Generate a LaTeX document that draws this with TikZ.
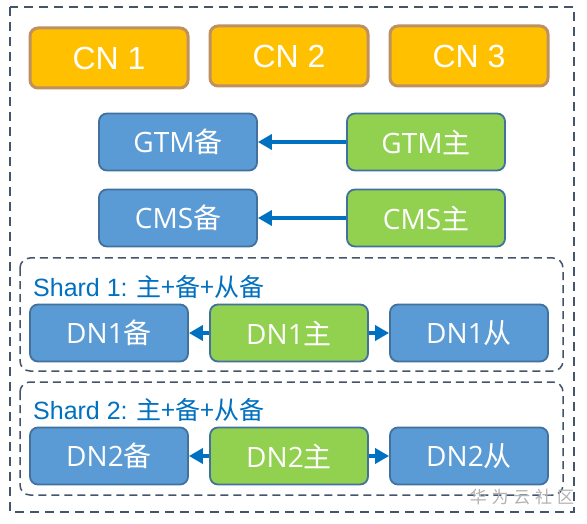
\documentclass[tikz,border=0pt]{standalone}
\usepackage{fontspec}
\setmainfont{Liberation Sans}
\newfontfamily\cjk{Noto Sans CJK SC}
\newfontfamily\lat{Open Sans}
\newfontfamily\cjkwm[LetterSpace=28]{Noto Sans CJK SC}
\usetikzlibrary{arrows.meta}
\definecolor{cnfill}{HTML}{FFC000}
\definecolor{cnborder}{HTML}{BF9060}
\definecolor{bluefill}{HTML}{5B9BD5}
\definecolor{blueborder}{HTML}{41719C}
\definecolor{greenfill}{HTML}{92D050}
\definecolor{dashcol}{HTML}{44546A}
\definecolor{arrowcol}{HTML}{0070C0}
\definecolor{titlecol}{HTML}{0070C0}
\newcommand{\mixlabel}[2]{{\lat #1}{\cjk #2}}
\tikzset{
  cnbox/.style={draw=cnborder, line width=3pt, fill=cnfill, rounded corners=8pt,
    minimum width=158pt, minimum height=60pt, text=white,
    font=\fontsize{32}{38}\selectfont},
  bluebox/.style={draw=blueborder, line width=1.8pt, fill=bluefill, rounded corners=8pt,
    minimum width=158pt, minimum height=57pt, text=white,
    font=\fontsize{28}{34}\selectfont},
  greenbox/.style={bluebox, fill=greenfill},
  groupbox/.style={draw=dashcol, line width=1.5pt, dash pattern=on 8pt off 5pt, rounded corners=10pt},
  outerbox/.style={draw=dashcol, line width=2pt, dash pattern=on 9pt off 6pt},
  flow/.style={draw=arrowcol, line width=3.5pt, -{Triangle[length=14pt,width=15pt]}},
  shardtitle/.style={text=titlecol, anchor=west, inner sep=0pt, font=\fontsize{25}{30}\selectfont},
}
\begin{document}
\begin{tikzpicture}[x=1pt,y=-1pt]
\useasboundingbox (0,0) rectangle (587,524);
\fill[white] (0,0) rectangle (587,524);
% outer
\draw[outerbox] (10,7) rectangle (574,512);
% CN
\node[cnbox] (cn1) at (109,58) {CN 1};
\node[cnbox] (cn2) at (289,56) {CN 2};
\node[cnbox] (cn3) at (469,56) {CN 3};
% GTM / CMS
\node[bluebox] (gtmb) at (178,142) {\mixlabel{GTM}{备}};
\node[greenbox] (gtmz) at (426,142) {\mixlabel{GTM}{主}};
\node[bluebox] (cmsb) at (178,218) {\mixlabel{CMS}{备}};
\node[greenbox] (cmsz) at (426,218) {\mixlabel{CMS}{主}};
\draw[flow] (gtmz.west) -- (gtmb.east);
\draw[flow] (cmsz.west) -- (cmsb.east);
% Shard 1
\draw[groupbox] (20,258) rectangle (563,371);
\node[shardtitle] (s1t) at (33,287) {Shard 1: {\cjk 主+备+从备}};
\node[bluebox] (dn1b) at (109,333) {\mixlabel{DN1}{备}};
\node[greenbox] (dn1z) at (289,333) {\mixlabel{DN1}{主}};
\node[bluebox] (dn1c) at (469,333) {\mixlabel{DN1}{从}};
\draw[flow] (dn1z.west) -- (dn1b.east);
\draw[flow] (dn1z.east) -- (dn1c.west);
% Shard 2
\draw[groupbox] (20,382) rectangle (563,495);
\node[shardtitle] (s2t) at (33,410) {Shard 2: {\cjk 主+备+从备}};
\node[bluebox] (dn2b) at (109,456) {\mixlabel{DN2}{备}};
\node[greenbox] (dn2z) at (289,456) {\mixlabel{DN2}{主}};
\node[bluebox] (dn2c) at (469,456) {\mixlabel{DN2}{从}};
\draw[flow] (dn2z.west) -- (dn2b.east);
\draw[flow] (dn2z.east) -- (dn2c.west);
% watermark
\node[text=gray!60, font=\cjkwm\fontsize{17}{20}\selectfont, inner sep=0pt] (wm) at (522,497) {华为云社区};
\end{tikzpicture}
\end{document}
